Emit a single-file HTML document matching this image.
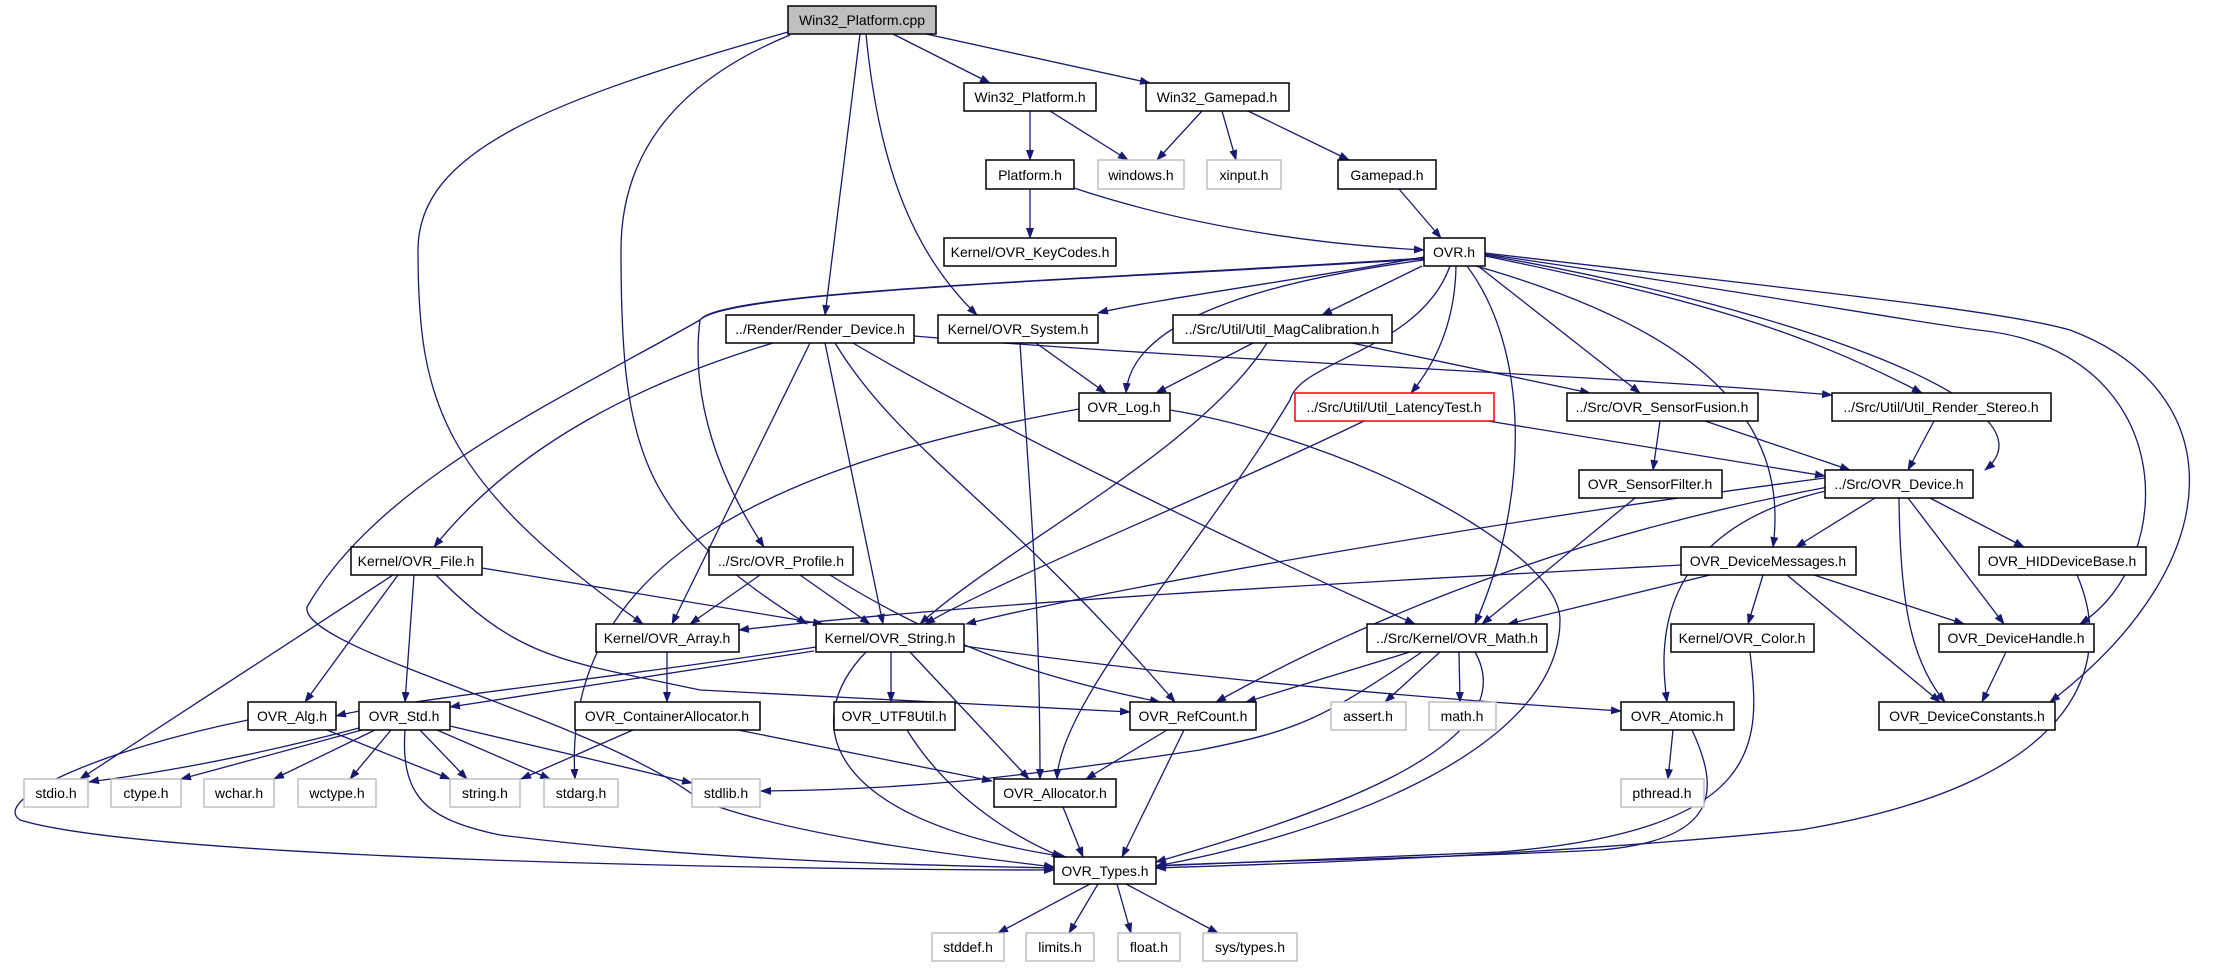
<!DOCTYPE html>
<html><head><meta charset="utf-8"><style>
html,body{margin:0;padding:0;background:#fff;}
svg{display:block;}
text{font-family:"Liberation Sans",sans-serif;font-size:14px;text-anchor:middle;fill:#000;}
.e{fill:none;stroke:#191970;stroke-width:1.3;marker-end:url(#a);}
.n rect{fill:#fff;stroke:#000;stroke-width:1.5;}
.g rect{fill:#fff;stroke:#bfbfbf;stroke-width:1.5;}
</style></head><body>
<svg width="2239" height="968" viewBox="0 0 2239 968" xmlns="http://www.w3.org/2000/svg">
<defs><marker id="a" markerUnits="userSpaceOnUse" markerWidth="11" markerHeight="8" refX="10" refY="4" orient="auto"><path d="M0,0 L11,4 L0,8 z" fill="#191970"/></marker></defs>
<g>
<path class="e" d="M893 34 L990 83"/>
<path class="e" d="M926 34 L1150 83"/>
<path class="e" d="M860 34 L825 315"/>
<path class="e" d="M866 34 C880 180,920 260,977 315"/>
<path class="e" d="M788 32 C550 100,418 150,418 250 C418 400,440 480,643 624"/>
<path class="e" d="M790 35 C680 80,621 150,621 250 C621 450,640 520,807 624"/>
<path class="e" d="M1030 111 L1030 160"/>
<path class="e" d="M1050 111 L1128 160"/>
<path class="e" d="M1202 111 L1157 160"/>
<path class="e" d="M1222 111 L1236 160"/>
<path class="e" d="M1248 111 L1349 160"/>
<path class="e" d="M1074 188 C1200 230,1330 245,1424 250"/>
<path class="e" d="M1030 189 L1030 238"/>
<path class="e" d="M1399 189 L1441 238"/>
<path class="e" d="M1424 257 C1300 280,1150 300,1098 313"/>
<path class="e" d="M1424 260 C1200 290,1130 340,1126 393"/>
<path class="e" d="M1422 266 L1322 315"/>
<path class="e" d="M1456 266 C1455 330,1430 370,1411 393"/>
<path class="e" d="M1478 266 L1640 393"/>
<path class="e" d="M1485 256 C1700 300,1800 330,1922 393"/>
<path class="e" d="M1485 255 C1750 300,2070 400,1985 470"/>
<path class="e" d="M1485 254 C1800 300,1900 320,1978 330 C2180 350,2180 560,2080 624"/>
<path class="e" d="M1485 253 C1800 290,2000 310,2070 330 C2230 390,2235 560,2050 702"/>
<path class="e" d="M1476 266 C1700 330,1790 420,1773 547"/>
<path class="e" d="M1467 266 C1530 350,1530 500,1475 624"/>
<path class="e" d="M1450 266 C1420 350,1300 360,1290 400 C1200 550,1060 700,1057 779"/>
<path class="e" d="M1424 259 C1100 280,730 290,700 320 C690 400,720 480,764 547"/>
<path class="e" d="M1424 258 C1100 280,720 290,700 320 C560 400,380 480,307 607 C300 650,600 720,700 800 C800 840,1000 860,1054 867"/>
<path class="e" d="M773 343 C650 380,520 440,434 547"/>
<path class="e" d="M810 343 L672 624"/>
<path class="e" d="M825 343 L883 624"/>
<path class="e" d="M835 343 C900 450,1000 500,1175 702"/>
<path class="e" d="M853 343 C1000 430,1250 550,1415 624"/>
<path class="e" d="M914 336 C1200 360,1600 375,1832 395"/>
<path class="e" d="M1036 343 L1106 393"/>
<path class="e" d="M1020 343 C1030 500,1040 600,1040 779"/>
<path class="e" d="M1253 343 L1156 393"/>
<path class="e" d="M1267 343 C1200 450,1000 550,920 624"/>
<path class="e" d="M1352 343 L1590 393"/>
<path class="e" d="M1079 409 C800 460,560 550,575 779"/>
<path class="e" d="M1170 410 C1350 440,1560 550,1560 620 C1560 760,1300 840,1156 866"/>
<path class="e" d="M1364 421 C1200 500,1000 580,925 624"/>
<path class="e" d="M1488 421 L1825 476"/>
<path class="e" d="M1660 421 L1653 470"/>
<path class="e" d="M1705 421 L1850 470"/>
<path class="e" d="M1635 498 L1482 624"/>
<path class="e" d="M1934 421 L1908 470"/>
<path class="e" d="M1825 478 C1500 520,1100 590,966 624"/>
<path class="e" d="M1828 487 C1600 530,1400 600,1216 702"/>
<path class="e" d="M1875 498 L1796 547"/>
<path class="e" d="M1830 490 C1650 530,1660 650,1667 702"/>
<path class="e" d="M1930 498 L2024 547"/>
<path class="e" d="M1908 498 L2004 624"/>
<path class="e" d="M1899 498 C1900 600,1910 660,1945 702"/>
<path class="e" d="M482 568 L823 624"/>
<path class="e" d="M398 575 L305 702"/>
<path class="e" d="M414 575 L405 702"/>
<path class="e" d="M393 575 L80 779"/>
<path class="e" d="M436 575 C520 660,560 660,700 690 L1130 712"/>
<path class="e" d="M760 575 L690 624"/>
<path class="e" d="M800 575 L870 624"/>
<path class="e" d="M830 575 C950 650,1050 680,1160 702"/>
<path class="e" d="M667 652 L667 702"/>
<path class="e" d="M633 730 L521 779"/>
<path class="e" d="M738 730 L992 781"/>
<path class="e" d="M816 647 C600 680,400 700,336 716"/>
<path class="e" d="M814 651 L450 707"/>
<path class="e" d="M891 652 L891 702"/>
<path class="e" d="M910 652 L1029 779"/>
<path class="e" d="M866 652 C800 720,820 820,1066 857"/>
<path class="e" d="M964 646 C1200 680,1450 700,1621 711"/>
<path class="e" d="M1681 565 C1400 580,1000 600,739 630"/>
<path class="e" d="M1710 575 L1508 624"/>
<path class="e" d="M1763 575 L1748 624"/>
<path class="e" d="M1814 575 L1964 624"/>
<path class="e" d="M1787 575 L1940 702"/>
<path class="e" d="M1410 652 L1246 702"/>
<path class="e" d="M1440 652 L1385 702"/>
<path class="e" d="M1459 652 L1460 702"/>
<path class="e" d="M1475 652 C1530 750,1300 820,1156 862"/>
<path class="e" d="M1422 652 C1320 720,1300 730,1200 750 C1000 780,900 790,761 791"/>
<path class="e" d="M327 730 L450 779"/>
<path class="e" d="M248 720 C100 750,-10 800,20 820 C150 860,800 870,1054 870"/>
<path class="e" d="M359 728 C200 770,100 780,89 782"/>
<path class="e" d="M362 730 L181 779"/>
<path class="e" d="M375 730 L274 779"/>
<path class="e" d="M391 730 L350 779"/>
<path class="e" d="M420 730 L467 779"/>
<path class="e" d="M437 730 L550 779"/>
<path class="e" d="M450 726 L692 783"/>
<path class="e" d="M405 730 C400 800,430 820,500 835 C700 860,900 865,1054 868"/>
<path class="e" d="M907 730 C950 800,1020 840,1062 857"/>
<path class="e" d="M1167 730 L1086 779"/>
<path class="e" d="M1184 730 L1122 857"/>
<path class="e" d="M1063 807 L1083 857"/>
<path class="e" d="M1673 730 L1668 779"/>
<path class="e" d="M1692 730 C1720 790,1720 840,1600 850 C1400 860,1200 862,1156 866"/>
<path class="e" d="M1750 652 C1760 740,1770 830,1500 852 L1156 866"/>
<path class="e" d="M2077 575 C2110 650,2100 780,1800 830 C1500 860,1200 866,1156 868"/>
<path class="e" d="M2006 652 L1982 702"/>
<path class="e" d="M1090 884 L998 933"/>
<path class="e" d="M1098 884 L1069 933"/>
<path class="e" d="M1117 884 L1131 933"/>
<path class="e" d="M1126 884 L1218 933"/>
</g>
<g class="n">
<rect x="788" y="6" width="148" height="28" style="fill:#bfbfbf"/><text x="862" y="25">Win32_Platform.cpp</text>
<rect x="964" y="83" width="132" height="28"/><text x="1030" y="102">Win32_Platform.h</text>
<rect x="1146" y="83" width="143" height="28"/><text x="1217" y="102">Win32_Gamepad.h</text>
<rect x="986" y="160" width="88" height="29"/><text x="1030" y="180">Platform.h</text>
<rect x="1338" y="160" width="98" height="29"/><text x="1387" y="180">Gamepad.h</text>
<rect x="944" y="238" width="172" height="28"/><text x="1030" y="257">Kernel/OVR_KeyCodes.h</text>
<rect x="1424" y="238" width="61" height="28"/><text x="1454" y="257">OVR.h</text>
<rect x="726" y="315" width="188" height="28"/><text x="820" y="334">../Render/Render_Device.h</text>
<rect x="938" y="315" width="160" height="28"/><text x="1018" y="334">Kernel/OVR_System.h</text>
<rect x="1173" y="315" width="219" height="28"/><text x="1282" y="334">../Src/Util/Util_MagCalibration.h</text>
<rect x="1079" y="393" width="91" height="28"/><text x="1124" y="412">OVR_Log.h</text>
<rect x="1295" y="393" width="199" height="28" style="stroke:#ff0000"/><text x="1394" y="412">../Src/Util/Util_LatencyTest.h</text>
<rect x="1567" y="393" width="191" height="28"/><text x="1662" y="412">../Src/OVR_SensorFusion.h</text>
<rect x="1832" y="393" width="219" height="28"/><text x="1941" y="412">../Src/Util/Util_Render_Stereo.h</text>
<rect x="1579" y="470" width="143" height="28"/><text x="1650" y="489">OVR_SensorFilter.h</text>
<rect x="1825" y="470" width="148" height="28"/><text x="1899" y="489">../Src/OVR_Device.h</text>
<rect x="351" y="547" width="131" height="28"/><text x="416" y="566">Kernel/OVR_File.h</text>
<rect x="709" y="547" width="144" height="28"/><text x="781" y="566">../Src/OVR_Profile.h</text>
<rect x="1681" y="547" width="175" height="28"/><text x="1768" y="566">OVR_DeviceMessages.h</text>
<rect x="1979" y="547" width="167" height="28"/><text x="2062" y="566">OVR_HIDDeviceBase.h</text>
<rect x="596" y="624" width="143" height="28"/><text x="667" y="643">Kernel/OVR_Array.h</text>
<rect x="816" y="624" width="148" height="28"/><text x="890" y="643">Kernel/OVR_String.h</text>
<rect x="1367" y="624" width="180" height="28"/><text x="1457" y="643">../Src/Kernel/OVR_Math.h</text>
<rect x="1671" y="624" width="143" height="28"/><text x="1742" y="643">Kernel/OVR_Color.h</text>
<rect x="1939" y="624" width="155" height="28"/><text x="2016" y="643">OVR_DeviceHandle.h</text>
<rect x="248" y="702" width="88" height="28"/><text x="292" y="721">OVR_Alg.h</text>
<rect x="359" y="702" width="91" height="28"/><text x="404" y="721">OVR_Std.h</text>
<rect x="575" y="702" width="185" height="28"/><text x="667" y="721">OVR_ContainerAllocator.h</text>
<rect x="834" y="702" width="121" height="28"/><text x="894" y="721">OVR_UTF8Util.h</text>
<rect x="1130" y="702" width="126" height="28"/><text x="1193" y="721">OVR_RefCount.h</text>
<rect x="1621" y="702" width="113" height="28"/><text x="1677" y="721">OVR_Atomic.h</text>
<rect x="1879" y="702" width="176" height="28"/><text x="1967" y="721">OVR_DeviceConstants.h</text>
<rect x="994" y="779" width="122" height="28"/><text x="1055" y="798">OVR_Allocator.h</text>
<rect x="1054" y="857" width="102" height="27"/><text x="1105" y="876">OVR_Types.h</text>
</g>
<g class="g">
<rect x="1098" y="160" width="86" height="29"/><text x="1141" y="180">windows.h</text>
<rect x="1207" y="160" width="74" height="29"/><text x="1244" y="180">xinput.h</text>
<rect x="1331" y="702" width="75" height="28"/><text x="1368" y="721">assert.h</text>
<rect x="1429" y="702" width="67" height="28"/><text x="1462" y="721">math.h</text>
<rect x="24" y="779" width="64" height="28"/><text x="56" y="798">stdio.h</text>
<rect x="111" y="779" width="70" height="28"/><text x="146" y="798">ctype.h</text>
<rect x="204" y="779" width="70" height="28"/><text x="239" y="798">wchar.h</text>
<rect x="298" y="779" width="78" height="28"/><text x="337" y="798">wctype.h</text>
<rect x="450" y="779" width="70" height="28"/><text x="485" y="798">string.h</text>
<rect x="544" y="779" width="74" height="28"/><text x="581" y="798">stdarg.h</text>
<rect x="692" y="779" width="68" height="28"/><text x="726" y="798">stdlib.h</text>
<rect x="1621" y="779" width="83" height="28"/><text x="1662" y="798">pthread.h</text>
<rect x="932" y="933" width="72" height="28"/><text x="968" y="952">stddef.h</text>
<rect x="1026" y="933" width="68" height="28"/><text x="1060" y="952">limits.h</text>
<rect x="1118" y="933" width="62" height="28"/><text x="1149" y="952">float.h</text>
<rect x="1203" y="933" width="94" height="28"/><text x="1250" y="952">sys/types.h</text>
</g>
</svg>
</body></html>
